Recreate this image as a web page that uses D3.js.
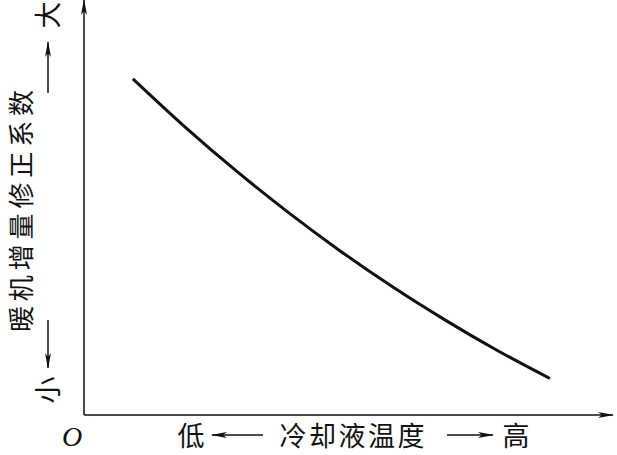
<!DOCTYPE html>
<html>
<head>
<meta charset="utf-8">
<script src="https://cdn.jsdelivr.net/npm/d3@7"></script>
<style>
  body { margin: 0; background: #fff; }
  text { font-family: "Noto Sans CJK SC", sans-serif; fill: #111; }
</style>
</head>
<body>
<div id="chart"></div>
<script>
var width = 617, height = 455;

// curve (relative units, 0..100)
var coolantTemp = [9.4, 19.4, 29.4, 39.4, 49.4, 59.4, 69.4, 79.4, 89.6];
var correction  = [82, 70.3, 59.4, 49.3, 39.9, 31.2, 23.2, 15.8, 8.9];

var xTitle = "冷却液温度", yTitle = "暖机增量修正系数";
var xLow = "低", xHigh = "高", yLow = "小", yHigh = "大";

var x = d3.scaleLinear().domain([0, 100]).range([84, 604]);
var y = d3.scaleLinear().domain([0, 100]).range([415, 5]);

var svg = d3.select("#chart").append("svg")
    .attr("width", width)
    .attr("height", height);

var defs = svg.append("defs");
defs.append("marker")
    .attr("id", "head")
    .attr("viewBox", "0 0 16 6")
    .attr("refX", 15).attr("refY", 3)
    .attr("markerWidth", 16).attr("markerHeight", 6)
    .attr("markerUnits", "userSpaceOnUse")
    .attr("orient", "auto")
  .append("path")
    .attr("d", "M0,0 L16,3 L0,6 L4,3 Z")
    .attr("fill", "#111");

// axes
svg.append("line")
    .attr("x1", x(0)).attr("y1", y(0))
    .attr("x2", 613).attr("y2", y(0))
    .attr("stroke", "#111").attr("stroke-width", 1.5)
    .attr("marker-end", "url(#head)");
svg.append("line")
    .attr("x1", x(0)).attr("y1", y(0))
    .attr("x2", x(0)).attr("y2", 0)
    .attr("stroke", "#111").attr("stroke-width", 1.5)
    .attr("marker-end", "url(#head)");

svg.append("text")
    .attr("x", 72).attr("y", 446)
    .attr("text-anchor", "middle")
    .style("font-family", "'Liberation Serif', serif")
    .style("font-style", "italic")
    .style("font-size", "28px")
    .text("O");

// curve
var line = d3.line()
    .x(function(d){ return x(d[0]); })
    .y(function(d){ return y(d[1]); })
    .curve(d3.curveMonotoneX);

svg.append("path")
    .datum(d3.zip(coolantTemp, correction))
    .attr("d", line)
    .attr("fill", "none")
    .attr("stroke", "#111")
    .attr("stroke-width", 3);

// x title with arrows
var fs = "27px";
svg.append("text").attr("x", 191).attr("y", 446).attr("text-anchor", "middle")
    .style("font-size", fs).text(xLow);
svg.append("text").attr("x", 352).attr("y", 446).attr("text-anchor", "middle")
    .style("font-size", fs).attr("textLength", 145).text(xTitle);
svg.append("text").attr("x", 516).attr("y", 446).attr("text-anchor", "middle")
    .style("font-size", fs).text(xHigh);
svg.append("line").attr("x1", 263).attr("y1", 435).attr("x2", 212).attr("y2", 435)
    .attr("stroke", "#111").attr("stroke-width", 1.5).attr("marker-end", "url(#head)");
svg.append("line").attr("x1", 447).attr("y1", 435).attr("x2", 493).attr("y2", 435)
    .attr("stroke", "#111").attr("stroke-width", 1.5).attr("marker-end", "url(#head)");

// y title with arrows (rotated)
var yg = svg.append("g").attr("transform", "translate(19,0) rotate(-90)");
yg.append("text").attr("x", -211).attr("y", 0).attr("text-anchor", "middle")
    .attr("dominant-baseline", "central")
    .style("font-size", "26px").attr("textLength", 242).text(yTitle);
svg.append("g").attr("transform", "translate(58,390) rotate(-90)")
  .append("text").attr("text-anchor", "middle").style("font-size", fs).text(yLow);
svg.append("g").attr("transform", "translate(58,15) rotate(-90)")
  .append("text").attr("text-anchor", "middle").style("font-size", fs).text(yHigh);
svg.append("line").attr("x1", 48).attr("y1", 93).attr("x2", 48).attr("y2", 42)
    .attr("stroke", "#111").attr("stroke-width", 1.5).attr("marker-end", "url(#head)");
svg.append("line").attr("x1", 48).attr("y1", 320).attr("x2", 48).attr("y2", 368)
    .attr("stroke", "#111").attr("stroke-width", 1.5).attr("marker-end", "url(#head)");
</script>
</body>
</html>
